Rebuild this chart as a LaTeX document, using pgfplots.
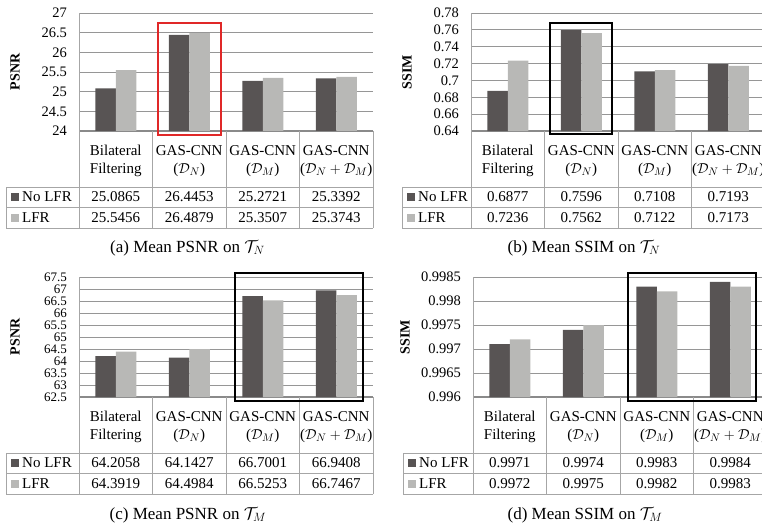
\documentclass[border=0pt]{standalone}
\usepackage{pgfplots}
\pgfplotsset{compat=1.18}
\usepackage{fontspec}
\setmainfont{Liberation Serif}
\definecolor{darkbar}{HTML}{585454}
\definecolor{lightbar}{HTML}{B8B8B6}
\definecolor{gridc}{HTML}{969696}
\definecolor{tabc}{HTML}{A6A6A6}
\definecolor{basec}{HTML}{8A8A8A}
\definecolor{boxred}{HTML}{E02828}

\pgfplotsset{
  panel/.style={
    scale only axis, width=294pt, height=118pt,
    anchor=south west,
    xmin=-0.5, xmax=3.5,
    xtick=\empty,
    ybar=0pt, bar width=20.5pt,
    ymajorgrids, grid style={gridc, line width=0.8pt},
    axis x line*=bottom, axis y line*=left,
    x axis line style={-, draw=basec, line width=1.2pt},
    y axis line style={-, draw=tabc, line width=0.8pt},
    major tick length=0pt,
    scaled y ticks=false,
    /pgf/number format/assume math mode=true,
    yticklabel style={font=\fontsize{14.5}{15}\selectfont, xshift=-8.5pt},
  },
  darkp/.style={fill=darkbar, draw=none},
  lightp/.style={fill=lightbar, draw=none},
}

\newcommand\ptable[5]{%
\begin{scope}[shift={(#1pt,-#2pt)}, x=1pt, y=-1pt, tabtext/.style={font=\fontsize{15}{18}\selectfont, inner sep=0pt}]
  \draw[tabc, line width=0.8pt] (#3,56) -- (294,56) (#3,76) -- (294,76) (#3,97) -- (294,97) (#3,56) -- (#3,97);
  \foreach \k in {0,1,2,3,4} \draw[tabc, line width=0.8pt] (73.5*\k,0) -- (73.5*\k,97);
  \node[tabtext, align=center] at (36.75,30) {Bilateral\\Filtering};
  \node[tabtext, align=center] at (110.25,30) {GAS-CNN\\($\mathcal{D}_N$)};
  \node[tabtext, align=center] at (183.75,30) {GAS-CNN\\($\mathcal{D}_M$)};
  \node[tabtext, align=center] at (257.25,30) {GAS-CNN\\($\mathcal{D}_N+\mathcal{D}_M$)};
  \foreach \v [count=\i from 0] in {#4} \node[tabtext] at (36.75+73.5*\i,66) {\v};
  \foreach \v [count=\i from 0] in {#5} \node[tabtext] at (36.75+73.5*\i,86.5) {\v};
  \fill[darkbar] (#3+5,62) rectangle (#3+13,70);
  \fill[lightbar] (#3+5,82.5) rectangle (#3+13,90.5);
  \node[tabtext, anchor=west] at (#3+16,66) {No LFR};
  \node[tabtext, anchor=west] at (#3+16,86.5) {LFR};
\end{scope}}

\begin{document}
\begin{tikzpicture}
\useasboundingbox (0,0) rectangle (762pt,-524pt);

% (a)
\begin{axis}[panel, at={(79pt,-131pt)}, ymin=24, ymax=27,
  ytick={24,24.5,25,25.5,26,26.5,27}]
\addplot[darkp] coordinates {(0,25.0865) (1,26.4453) (2,25.2721) (3,25.3392)};
\addplot[lightp] coordinates {(0,25.5456) (1,26.4879) (2,25.3507) (3,25.3743)};
\end{axis}

% (b)
\begin{axis}[panel, at={(471pt,-131pt)}, ymin=0.64, ymax=0.78,
  ytick={0.64,0.66,0.68,0.70,0.72,0.74,0.76,0.78},
  yticklabel style={/pgf/number format/fixed, /pgf/number format/precision=2}]
\addplot[darkp] coordinates {(0,0.6877) (1,0.7596) (2,0.7108) (3,0.7193)};
\addplot[lightp] coordinates {(0,0.7236) (1,0.7562) (2,0.7122) (3,0.7173)};
\end{axis}

% (c)
\begin{axis}[panel, at={(79pt,-397pt)}, height=120pt, ymin=62.5, ymax=67.5,
  ytick={62.5,63,63.5,64,64.5,65,65.5,66,66.5,67,67.5},
  yticklabel style={font=\fontsize{13}{13}\selectfont, inner ysep=0pt}]
\addplot[darkp] coordinates {(0,64.2058) (1,64.1427) (2,66.7001) (3,66.9408)};
\addplot[lightp] coordinates {(0,64.3919) (1,64.4984) (2,66.5253) (3,66.7467)};
\end{axis}

% (d)
\begin{axis}[panel, at={(473pt,-397pt)}, height=120pt, ymin=0.996, ymax=0.9985,
  ytick={0.996,0.9965,0.997,0.9975,0.998,0.9985},
  yticklabel style={/pgf/number format/fixed, /pgf/number format/precision=4}]
\addplot[darkp] coordinates {(0,0.9971) (1,0.9974) (2,0.9983) (3,0.9984)};
\addplot[lightp] coordinates {(0,0.9972) (1,0.9975) (2,0.9982) (3,0.9983)};
\end{axis}

\ptable{79}{131}{-73}{25.0865,26.4453,25.2721,25.3392}{25.5456,26.4879,25.3507,25.3743}
\ptable{471}{131}{-69}{0.6877,0.7596,0.7108,0.7193}{0.7236,0.7562,0.7122,0.7173}
\ptable{79}{397}{-73}{64.2058,64.1427,66.7001,66.9408}{64.3919,64.4984,66.5253,66.7467}
\ptable{473}{397}{-70}{0.9971,0.9974,0.9983,0.9984}{0.9972,0.9975,0.9982,0.9983}

\draw[boxred, line width=1.5pt] (158pt,-23pt) rectangle (221pt,-135pt);
\draw[black, line width=1.5pt] (550pt,-23pt) rectangle (612pt,-134pt);
\draw[black, line width=1.5pt] (235pt,-273pt) rectangle (363pt,-401pt);
\draw[black, line width=1.5pt] (628pt,-273pt) rectangle (756pt,-401pt);

\begin{scope}[every node/.style={font=\fontsize{14}{14}\selectfont\bfseries, rotate=90, anchor=center}]
\node at (15pt,-72pt) {PSNR};
\node at (407pt,-72pt) {SSIM};
\node at (15pt,-337pt) {PSNR};
\node at (405pt,-337pt) {SSIM};
\end{scope}

\node[font=\fontsize{17}{20}\selectfont] at (187.5pt,-248pt) {(a) Mean PSNR on $\mathcal{T}_N$};
\node[font=\fontsize{17}{20}\selectfont] at (584pt,-248pt) {(b) Mean SSIM on $\mathcal{T}_N$};
\node[font=\fontsize{17}{20}\selectfont] at (188pt,-515pt) {(c) Mean PSNR on $\mathcal{T}_M$};
\node[font=\fontsize{17}{20}\selectfont] at (585pt,-515pt) {(d) Mean SSIM on $\mathcal{T}_M$};
\end{tikzpicture}
\end{document}
